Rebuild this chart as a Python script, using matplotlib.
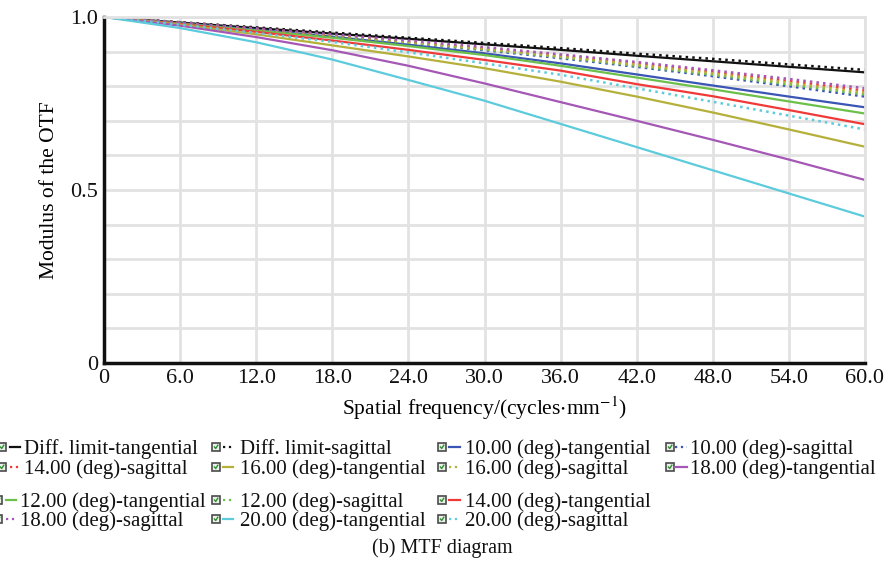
import matplotlib
matplotlib.use("Agg")
import matplotlib.pyplot as plt
from matplotlib.lines import Line2D

plt.rcParams['font.family'] = ['Liberation Serif', 'DejaVu Serif']
plt.rcParams['mathtext.fontset'] = 'stix'

W, H = 885, 569

# spatial frequency samples (cycles/mm)
freq = [0, 6, 12, 18, 24, 30, 36, 42, 48, 54, 60]

# MTF values per field / direction
diff_t = [1.0, 0.984, 0.968, 0.952, 0.937, 0.921, 0.905, 0.888, 0.872, 0.856, 0.840]
diff_s = [1.0, 0.985, 0.970, 0.955, 0.940, 0.925, 0.910, 0.894, 0.879, 0.863, 0.847]
f10_t = [1.0, 0.982, 0.963, 0.943, 0.920, 0.895, 0.866, 0.834, 0.802, 0.770, 0.739]
f10_s = [1.0, 0.982, 0.964, 0.945, 0.925, 0.904, 0.881, 0.856, 0.829, 0.800, 0.770]
f12_t = [1.0, 0.981, 0.961, 0.940, 0.916, 0.890, 0.859, 0.825, 0.791, 0.756, 0.721]
f12_s = [1.0, 0.983, 0.965, 0.946, 0.926, 0.906, 0.884, 0.859, 0.833, 0.805, 0.776]
f14_t = [1.0, 0.980, 0.957, 0.932, 0.905, 0.876, 0.845, 0.806, 0.771, 0.731, 0.690]
f14_s = [1.0, 0.983, 0.966, 0.948, 0.929, 0.910, 0.889, 0.866, 0.841, 0.815, 0.787]
f16_t = [1.0, 0.978, 0.950, 0.918, 0.886, 0.852, 0.813, 0.770, 0.724, 0.675, 0.625]
f16_s = [1.0, 0.983, 0.965, 0.947, 0.928, 0.908, 0.886, 0.862, 0.837, 0.810, 0.781]
f18_t = [1.0, 0.975, 0.942, 0.904, 0.859, 0.808, 0.754, 0.700, 0.645, 0.588, 0.529]
f18_s = [1.0, 0.984, 0.967, 0.950, 0.932, 0.913, 0.892, 0.870, 0.846, 0.821, 0.794]
f20_t = [1.0, 0.968, 0.927, 0.877, 0.818, 0.758, 0.691, 0.624, 0.557, 0.490, 0.423]
f20_s = [1.0, 0.978, 0.954, 0.928, 0.898, 0.866, 0.833, 0.794, 0.755, 0.715, 0.675]

BLACK = '#111111'
BLUE = '#3a55b4'
GREEN = '#6cc04a'
RED = '#f03a3a'
OLIVE = '#b5b03a'
PURPLE = '#a557b5'
CYAN = '#5ccbdc'

series = {
    'Diff. limit-tangential': (diff_t, BLACK, '-'),
    'Diff. limit-sagittal': (diff_s, BLACK, ':'),
    '10.00 (deg)-tangential': (f10_t, BLUE, '-'),
    '10.00 (deg)-sagittal': (f10_s, BLUE, ':'),
    '12.00 (deg)-tangential': (f12_t, GREEN, '-'),
    '12.00 (deg)-sagittal': (f12_s, GREEN, ':'),
    '14.00 (deg)-tangential': (f14_t, RED, '-'),
    '14.00 (deg)-sagittal': (f14_s, RED, ':'),
    '16.00 (deg)-tangential': (f16_t, OLIVE, '-'),
    '16.00 (deg)-sagittal': (f16_s, OLIVE, ':'),
    '18.00 (deg)-tangential': (f18_t, PURPLE, '-'),
    '18.00 (deg)-sagittal': (f18_s, PURPLE, ':'),
    '20.00 (deg)-tangential': (f20_t, CYAN, '-'),
    '20.00 (deg)-sagittal': (f20_s, CYAN, ':'),
}

# legend layout: rows of names, two blocks
legend_rows = [
    ['Diff. limit-tangential', 'Diff. limit-sagittal', '10.00 (deg)-tangential', '10.00 (deg)-sagittal'],
    ['14.00 (deg)-sagittal', '16.00 (deg)-tangential', '16.00 (deg)-sagittal', '18.00 (deg)-tangential'],
    ['12.00 (deg)-tangential', '12.00 (deg)-sagittal', '14.00 (deg)-tangential'],
    ['18.00 (deg)-sagittal', '20.00 (deg)-tangential', '20.00 (deg)-sagittal'],
]
row_y = [447, 467, 500, 519]
col_x = [(2, 10, 20, 24), (216, 223, 233, 240), (442, 449, 460, 465), (670, 675, 687, 690)]

fig = plt.figure(figsize=(W / 100, H / 100), dpi=100)
ax = fig.add_axes([104 / W, 1 - 363 / H, (865 - 104) / W, (363 - 17) / H])

for name, (vals, color, ls) in series.items():
    lw = 1.6 if ls == '-' else 1.8
    ax.plot(freq, vals, color=color, linestyle=ls, linewidth=lw, label=name)

ax.set_xlim(0, 60)
ax.set_ylim(0, 1.0)
ax.set_xticks(range(0, 61, 6))
ax.set_xticklabels(['0'] + ['%.1f' % v for v in range(6, 61, 6)])
ax.set_yticks([i / 10 for i in range(11)])
ax.set_yticklabels(['0', '', '', '', '', '0.5', '', '', '', '', '1.0'])
ax.grid(True, color='#e2e2e2', linewidth=2)
ax.set_axisbelow(True)
ax.tick_params(length=0, labelsize=16, pad=4, colors='#111111')

for side in ('top', 'right'):
    ax.spines[side].set_color('#e2e2e2')
    ax.spines[side].set_linewidth(2)
for side in ('left', 'bottom'):
    ax.spines[side].set_color('#111111')
    ax.spines[side].set_linewidth(2.5)

ax.set_xlabel('Spatial frequency/(cycles$\\cdot$mm$^{-1}$)', fontsize=15.5, labelpad=5)
ax.set_ylabel('Modulus of the OTF', fontsize=15.5, labelpad=8)


def fx(x):
    return x / W


def fy(y):
    return 1 - y / H


# hand-built legend with check-box icons
for r, names in enumerate(legend_rows):
    y = row_y[r]
    for c, name in enumerate(names):
        _, color, ls = series[name]
        ix, lx0, lx1, tx = col_x[c]
        if r >= 2 and c == 0:
            ix, lx0, lx1, tx = ix - 4, lx0 - 4, lx1 - 4, tx - 4
        fig.add_artist(Line2D([fx(ix)], [fy(y)], marker='s', markersize=6,
                              markerfacecolor='#e8f0e8', markeredgecolor='#4a4a4a',
                              markeredgewidth=1.2, transform=fig.transFigure))
        fig.add_artist(Line2D([fx(ix - 1.5), fx(ix - 0.3), fx(ix + 1.8)],
                              [fy(y), fy(y + 1.5), fy(y - 1.8)],
                              color='#2f8f2f', linewidth=1.0, transform=fig.transFigure))
        fig.add_artist(Line2D([fx(lx0), fx(lx1)], [fy(y), fy(y)], color=color,
                              linestyle=ls, linewidth=1.6, transform=fig.transFigure))
        fig.text(fx(tx), fy(y), name, fontsize=15, ha='left', va='center_baseline',
                 color='#111111')

fig.text(0.5, fy(548), '(b) MTF diagram', fontsize=14.5, ha='center', va='center',
         color='#111111')

fig.savefig('out.png', dpi=100)
